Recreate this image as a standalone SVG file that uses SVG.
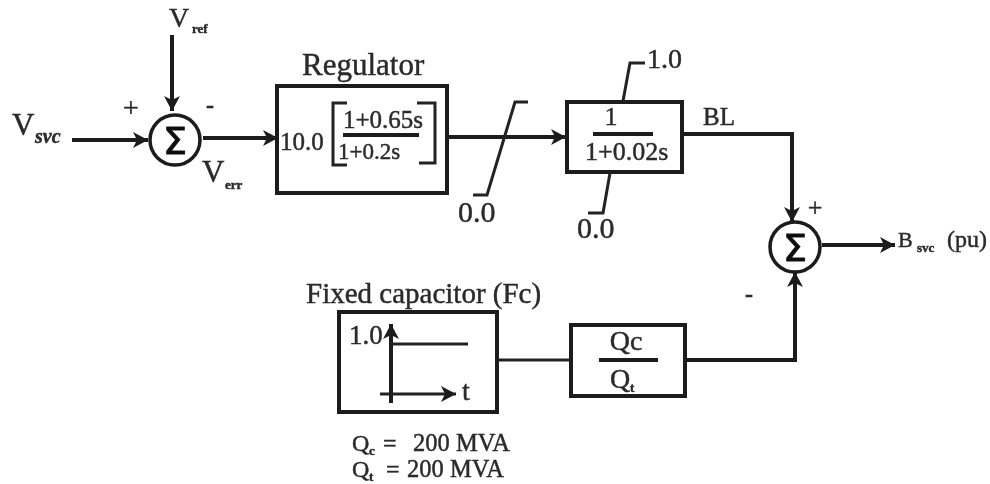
<svg xmlns="http://www.w3.org/2000/svg" width="990" height="484" viewBox="0 0 990 484">
<style>
text{font-family:"Liberation Serif","Times New Roman",serif;fill:#2a2a2a;stroke:#2a2a2a;stroke-width:.45}
.sub{font-weight:bold;font-size:13px}
.box{fill:none;stroke:#1c1c1c;stroke-width:4}
.sum{fill:#fff;stroke:#1c1c1c;stroke-width:3.5}
.w{fill:none;stroke:#1c1c1c;stroke-width:4}
.a{marker-end:url(#arr)}
.t{fill:none;stroke:#222;stroke-width:3}
.sig{font-size:38px;text-anchor:middle;font-family:"DejaVu Sans",sans-serif;fill:#111;stroke:#111;stroke-width:1}
</style>
<defs>
<marker id="arr" markerUnits="userSpaceOnUse" markerWidth="20" markerHeight="20" refX="15" refY="9" orient="auto">
<path d="M0 1L15 9L0 17L4 9Z" fill="#1c1c1c"/>
</marker>
<filter id="soft" x="0" y="0" width="100%" height="100%"><feGaussianBlur stdDeviation="0.45"/></filter>
</defs>
<rect width="990" height="484" fill="#fff"/>
<g filter="url(#soft)">
<g id="connectors">
<path class="w a" d="M72 140H148"/>
<path class="w a" d="M172 35V111"/>
<path class="w a" d="M203 138H278"/>
<path class="w" d="M446 137H475"/>
<path class="w a" d="M475 137H566"/>
<path class="w a" d="M682 134H792V222"/>
<path class="w a" d="M822 245H895"/>
<path class="t" d="M498 360H571"/>
<path class="w a" d="M685 360H795V272"/>
</g>
<g id="vref-label"><text x="169" y="27" font-size="28">V</text><text class="sub" x="192" y="33">ref</text></g>
<g id="vsvc-label"><text x="12" y="135" font-size="31">V</text><text x="35" y="143" font-size="20" font-style="italic" font-weight="bold">svc</text></g>
<g id="verr-label"><text x="202" y="182" font-size="31">V</text><text class="sub" x="225" y="189">err</text></g>
<g id="sign-plus-1"><text x="131" y="117" font-size="28" text-anchor="middle">+</text></g>
<g id="sign-minus-1"><text x="210" y="113" font-size="24" text-anchor="middle" font-weight="bold">-</text></g>
<g id="sum1"><circle class="sum" cx="175" cy="140" r="25"/><text class="sig" x="175" y="154">Σ</text></g>
<g id="regulator">
<text x="302" y="75" font-size="31">Regulator</text>
<rect class="box" x="277" y="86" width="170" height="107"/>
<text x="280" y="150" font-size="25">10.0</text>
<path class="t" d="M347 103H333V165H347M417 103H435V163H419"/>
<path class="w" d="M343 135H419"/>
<text x="343" y="128" font-size="25">1+0.65s</text>
<text x="338" y="159" font-size="23">1+0.2s</text>
</g>
<g id="saturation">
<path class="t" d="M473 195H487L515 102H528"/>
<text x="458" y="222" font-size="30">0.0</text>
</g>
<g id="lag-block">
<rect class="box" x="567" y="102" width="115" height="70"/>
<text x="611" y="125" font-size="26" text-anchor="middle">1</text>
<path class="w" d="M593 134H653"/>
<text x="585" y="160" font-size="26">1+0.02s</text>
<path class="t" d="M623 101L630 63H645"/>
<text x="647" y="68" font-size="28">1.0</text>
<path class="t" d="M610 173L603 213H588"/>
<text x="577" y="238" font-size="30">0.0</text>
<text x="703" y="125" font-size="25">BL</text>
</g>
<g id="sum2">
<circle class="sum" cx="795" cy="247" r="25"/><text class="sig" x="795" y="261">Σ</text>
<text x="815" y="216" font-size="26" text-anchor="middle">+</text>
<text x="749" y="302" font-size="24" text-anchor="middle" font-weight="bold">-</text>
</g>
<g id="output-label"><text x="898" y="247" font-size="22">B</text><text class="sub" x="917" y="252">svc</text><text x="947" y="247" font-size="24">(pu)</text></g>
<g id="fixed-capacitor">
<text x="306" y="303" font-size="29">Fixed capacitor (Fc)</text>
<rect class="box" x="339" y="312" width="158" height="100"/>
<text x="349" y="344" font-size="27">1.0</text>
<path class="w a" d="M391 403V324"/>
<path class="t" d="M391 344H468"/>
<path class="t a" d="M380 394H456"/>
<text x="462" y="400" font-size="28">t</text>
</g>
<g id="ratio-block">
<rect class="box" x="571" y="325" width="114" height="71"/>
<text x="626" y="350" font-size="28" text-anchor="middle">Qc</text>
<path class="w" d="M599 360H658"/>
<text x="610" y="388" font-size="28">Q</text><text class="sub" x="630" y="392">t</text>
</g>
<g id="notes">
<text x="352" y="451" font-size="24">Q</text><text class="sub" x="369" y="455">c</text><text x="383" y="451" font-size="24">=</text><text x="413" y="451" font-size="24.5">200 MVA</text>
<text x="352" y="477" font-size="24">Q</text><text class="sub" x="369" y="481">t</text><text x="386" y="477" font-size="24">=</text><text x="407" y="477" font-size="24.5">200 MVA</text>
</g>
</g>
</svg>
